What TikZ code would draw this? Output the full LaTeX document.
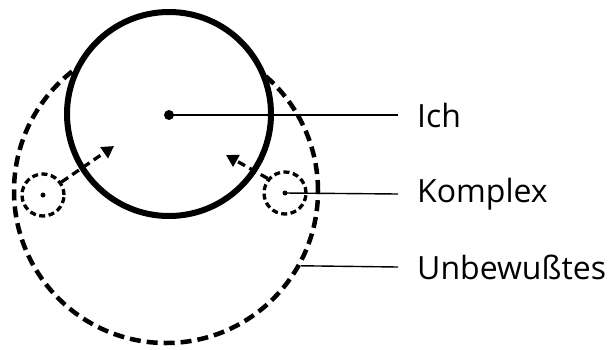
\documentclass[tikz,border=0pt]{standalone}
\usepackage{fontspec}
\setmainfont{Open Sans}
\usetikzlibrary{arrows.meta}

\tikzset{
  ichkreis/.style={circle, draw, line width=6pt, fill=white, minimum size=204pt, inner sep=0pt},
  ubkreis/.style={circle, draw, line width=4.5pt, dash pattern=on 11pt off 6pt, minimum size=304pt, inner sep=0pt},
  kleinkreis/.style={circle, draw, line width=3.3pt, dash pattern=on 6pt off 3.5pt, minimum size=42pt, inner sep=0pt},
  punkt/.style={circle, fill, inner sep=0pt, minimum size=#1},
  pfeil/.style={line width=3.3pt, dash pattern=on 8pt off 5pt, -{Triangle[length=12pt,width=13pt]}},
  zeiger/.style={line width=1.4pt},
  beschrift/.style={anchor=west, inner xsep=19pt, font=\fontsize{32}{36}\selectfont}
}

\begin{document}
\begin{tikzpicture}[x=1pt, y=-1pt]
\useasboundingbox (0,0) rectangle (612,349);

% Unbewusstes
\node[ubkreis] (ub) at (166,191) {};

% Ich
\node[ichkreis] (ichk) at (169,114) {};
\node[punkt=10pt] (ich) at (169,115) {};

% Komplexe
\node[kleinkreis] (kl) at (43,195) {};
\node[punkt=5pt] (klm) at (43,195) {};
\node[kleinkreis] (kr) at (285,193) {};
\node[punkt=5pt] (krm) at (285,193) {};

\coordinate (zl) at (114,146);
\coordinate (zr) at (226,155);
\draw[pfeil] (kl.35) -- (zl);
\draw[pfeil] (kr.140) -- (zr);

% Beschriftung
\node[beschrift] (lich) at (398,115) {Ich};
\node[beschrift] (lkomplex) at (398,194) {Komplex};
\node[beschrift] (lub) at (398,267) {Unbewußtes};

\draw[zeiger] (ich.center) -- (lich.west);
\draw[zeiger] (krm.center) -- (lkomplex.west);
\draw[zeiger] (ub.-29) -- (lub.west);

\end{tikzpicture}
\end{document}
